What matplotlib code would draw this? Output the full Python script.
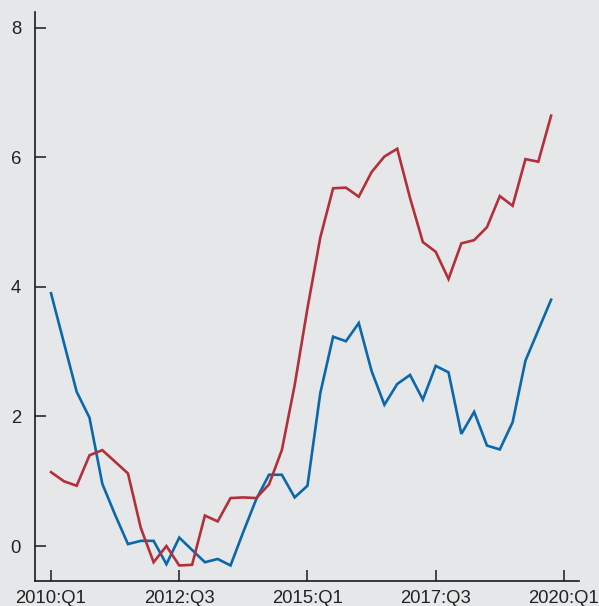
import matplotlib
matplotlib.use("Agg")
import matplotlib.pyplot as plt

# Quarterly data 2010:Q1 .. 2019:Q4 (index 0..39)
blue = [3.90, 3.14, 2.38, 1.98, 0.96, 0.48, 0.03, 0.08, 0.08, -0.28,
        0.13, -0.06, -0.25, -0.20, -0.30, 0.22, 0.72, 1.10, 1.10, 0.75,
        0.93, 2.36, 3.23, 3.16, 3.44, 2.70, 2.18, 2.50, 2.64, 2.26,
        2.78, 2.68, 1.73, 2.07, 1.55, 1.49, 1.91, 2.86, 3.33, 3.80]
red = [1.14, 1.00, 0.93, 1.40, 1.48, 1.30, 1.12, 0.28, -0.25, 0.00,
       -0.30, -0.29, 0.47, 0.38, 0.74, 0.75, 0.74, 0.95, 1.48, 2.48,
       3.67, 4.76, 5.52, 5.53, 5.39, 5.77, 6.01, 6.13, 5.37, 4.69,
       4.54, 4.12, 4.67, 4.72, 4.92, 5.40, 5.25, 5.97, 5.93, 6.64]
x_tick_pos = [0, 10, 20, 30, 40]
x_tick_labels = ["2010:Q1", "2012:Q3", "2015:Q1", "2017:Q3", "2020:Q1"]
y_ticks = [0, 2, 4, 6, 8]

plt.rcParams['font.family'] = ['Liberation Sans', 'DejaVu Sans']
bg = "#e6e7e9"
fig = plt.figure(figsize=(5.99, 6.06), dpi=100, facecolor=bg)
ax = fig.add_axes([35/599, 1-580.7/606, (579.3-35)/599, (580.7-12)/606])
ax.set_facecolor(bg)

xs = list(range(len(blue)))
ax.plot(xs, blue, color="#0a68ab", lw=1.9, solid_joinstyle='miter')
ax.plot(xs, red, color="#b3303a", lw=1.9, solid_joinstyle='miter')

ax.set_xlim(-1.25, 41.2)
ax.set_ylim(-0.535, 8.24)
ax.set_xticks(x_tick_pos)
ax.set_xticklabels(x_tick_labels)
ax.set_yticks(y_ticks)
for s in ['top', 'right']:
    ax.spines[s].set_visible(False)
for s in ['left', 'bottom']:
    ax.spines[s].set_linewidth(1.2)
    ax.spines[s].set_color("#1a1a1a")
ax.tick_params(axis='both', direction='in', length=8, width=1.1, color="#1a1a1a",
               labelsize=13.3, labelcolor="#222222")
ax.tick_params(axis='y', pad=10)
ax.tick_params(axis='x', pad=6.5)

fig.savefig("out.png", dpi=100, facecolor=bg)
